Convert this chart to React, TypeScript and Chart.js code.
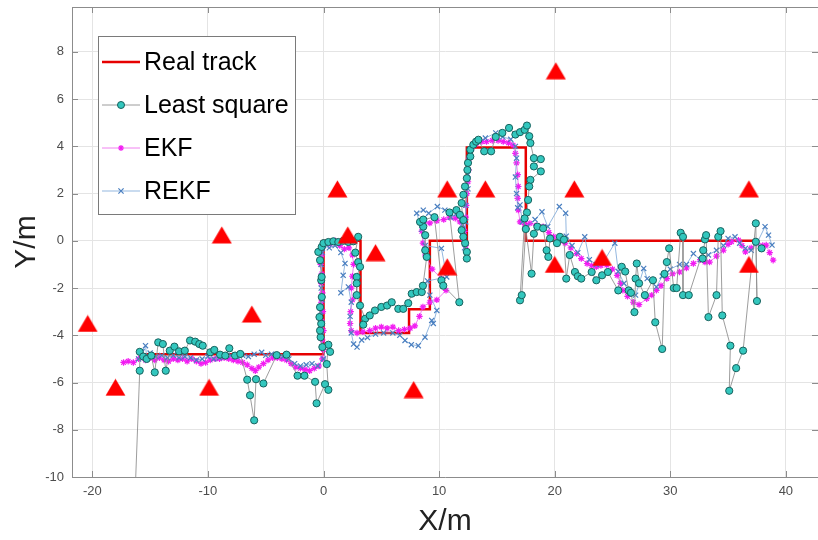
import React, { useEffect, useRef } from "react";
import { Chart, registerables } from "chart.js";

Chart.register(...registerables);

const FONT = "'Liberation Sans', Arial, Helvetica, sans-serif";

const xTicks = [-20, -10, 0, 10, 20, 30, 40];
const yTicks = [-10, -8, -6, -4, -2, 0, 2, 4, 6, 8];
const xRange = [-21.76, 42.78];
const yRange = [-10, 9.9];

const seriesNames = ["Real track", "Least square", "EKF", "REKF"];

const realTrackX = [-15.5, 0, 0, 3.2, 3.2, 7.4, 7.4, 9.2, 9.2, 12.4, 12.4, 17.5, 17.5, 37.5];
const realTrackY = [-4.8, -4.8, 0, 0, -3.9, -3.9, -2.9, -2.9, 0, 0, 3.95, 3.95, 0, 0];

const anchorX = [-20.4, -18, -9.9, -6.2, -8.8, 1.2, 2.1, 4.5, 7.8, 10.7, 14.0, 10.7, 20.1, 21.7, 36.8, 24.1, 20.0, 36.8];
const anchorY = [-3.5, -6.2, -6.2, -3.1, 0.25, 2.2, 0.25, -0.5, -6.3, 2.2, 2.2, -1.1, 7.2, 2.2, 2.2, -0.7, -1.0, -1.0];

const leastSquare: [number, number][] = [
  [-16.4, -12], [-15.9, -5.5], [-15.9, -4.7], [-15.6, -4.9], [-15.3, -5.0], [-14.9, -4.86], [-14.6, -5.57],
  [-14.3, -4.3], [-13.9, -4.37], [-13.65, -5.5], [-13.3, -4.65], [-12.9, -4.48], [-12.5, -4.68], [-12.0, -4.65],
  [-11.55, -4.22], [-11.1, -4.27], [-10.75, -4.37], [-10.45, -4.44], [-9.8, -4.72], [-9.45, -4.62], [-8.95, -4.82],
  [-8.5, -4.86], [-8.15, -4.55], [-7.65, -4.86], [-7.2, -4.79], [-6.6, -5.88], [-6.36, -6.54], [-6.0, -7.6],
  [-5.84, -5.86], [-5.2, -6.04], [-4.05, -4.84], [-3.2, -4.82], [-2.25, -5.71], [-1.65, -5.71], [-0.73, -5.97],
  [-0.6, -6.88], [0.13, -6.07], [0.42, -6.31], [0.28, -5.22], [0.42, -4.4], [0.57, -4.7], [-0.1, -4.5],
  [-0.25, -4.08], [-0.3, -3.8], [-0.2, -3.51], [-0.35, -3.23], [-0.3, -2.81], [-0.15, -2.38], [-0.2, -1.67],
  [-0.16, -1.53], [-0.3, -0.82], [-0.45, -0.47], [-0.16, -0.26], [0.0, -0.1], [0.42, -0.05], [0.85, -0.02],
  [1.28, -0.05], [1.71, 0.0], [2.15, -0.05], [2.58, -0.02], [3.0, 0.17], [2.75, -0.5], [3.0, -0.9],
  [3.16, -1.1], [2.87, -1.53], [2.87, -1.8], [2.87, -2.3], [3.16, -2.74], [3.6, -3.3], [3.44, -3.55],
  [4.0, -3.16], [4.45, -2.95], [5.0, -2.8], [5.5, -2.74], [5.9, -2.6], [6.47, -2.88], [6.9, -2.88],
  [7.33, -2.64], [7.63, -2.24], [8.06, -2.17], [8.5, -2.17], [8.6, -1.9], [8.93, -0.68], [8.8, -0.4],
  [8.8, 0.24], [8.63, 0.6], [8.35, 0.8], [8.63, 0.9], [9.6, 1.0], [10.2, -1.67], [10.36, -1.9],
  [11.75, -2.6], [10.9, 1.2], [11.5, 1.3], [11.8, 1.1], [12.1, 0.88], [11.95, 0.45], [12.25, -0.1],
  [12.4, -0.47], [12.4, -0.75], [12.1, 0.17], [11.95, 1.6], [12.1, 1.95], [12.24, 2.3], [12.4, 2.65],
  [12.45, 3.0], [12.5, 3.3], [12.7, 3.57], [12.7, 3.86], [12.96, 4.07], [13.2, 4.2], [13.4, 4.28],
  [13.9, 3.79], [14.5, 3.79], [14.9, 4.4], [15.47, 4.57], [16.05, 4.78], [16.6, 4.5], [17.0, 4.6],
  [17.4, 4.7], [17.6, 4.88], [17.8, 4.43], [17.9, 4.14], [18.2, 3.5], [18.8, 3.46], [18.2, 3.15],
  [18.8, 2.94], [17.9, 2.58], [17.8, 2.3], [17.7, 1.73], [17.6, 1.2], [17.4, 0.95], [17.0, -2.52],
  [17.15, -2.3], [17.5, 0.5], [18.0, -1.39], [18.2, 0.3], [18.5, 0.6], [19.0, 0.53], [19.3, -0.4],
  [19.45, -0.68], [19.6, 0.1], [20.2, -0.1], [20.45, 0.17], [20.8, 0.05], [21.0, -1.6], [21.3, -0.6],
  [21.75, -1.32], [22.0, -1.5], [22.3, -1.6], [23.2, -1.32], [23.6, -1.67], [24.1, -1.46], [24.6, -1.32],
  [25.5, -2.1], [25.8, -1.1], [26.1, -1.3], [26.4, -2.1], [26.6, -2.2], [26.9, -3.02], [27.0, -1.6],
  [27.1, -0.96], [27.3, -1.8], [27.8, -2.3], [28.5, -1.67], [28.7, -3.45], [29.3, -4.58], [29.5, -1.4],
  [29.7, -0.9], [29.9, -0.32], [30.3, -2.0], [30.55, -2.0], [30.9, 0.34], [31.1, 0.17], [31.1, -2.3],
  [31.6, -2.3], [32.85, -0.4], [32.8, -0.75], [33.0, 0.06], [33.1, 0.24], [33.3, -3.23], [34.0, -2.3],
  [34.15, 0.17], [34.35, 0.41], [34.5, -3.16], [35.2, -4.44], [35.1, -6.35], [35.7, -5.39], [36.3, -4.65],
  [37.4, 0.74], [37.5, -2.55], [37.4, -0.04], [37.9, -0.32],
];

const ekf: [number, number][] = [
  [-17.3, -5.15], [-16.9, -5.1], [-16.45, -5.15], [-16.0, -5.0], [-15.7, -4.9], [-15.4, -5.05], [-15.0, -4.95],
  [-14.6, -5.05], [-14.2, -4.95], [-13.8, -5.05], [-13.4, -5.1], [-13.0, -5.0], [-12.6, -5.05], [-12.2, -5.0],
  [-11.8, -5.1], [-11.4, -5.0], [-11.0, -5.1], [-10.6, -5.2], [-10.2, -5.15], [-9.8, -5.05], [-9.4, -5.0],
  [-9.0, -5.0], [-8.6, -4.95], [-8.2, -5.0], [-7.8, -5.05], [-7.4, -5.1], [-7.0, -5.15], [-6.6, -5.25],
  [-6.2, -5.4], [-5.9, -5.5], [-5.6, -5.35], [-5.2, -5.2], [-4.8, -5.05], [-4.4, -4.95], [-4.0, -4.95],
  [-3.6, -5.0], [-3.2, -5.05], [-2.8, -5.2], [-2.4, -5.35], [-2.0, -5.4], [-1.6, -5.45], [-1.2, -5.5],
  [-0.8, -5.4], [-0.4, -5.3], [-0.1, -5.0], [0.0, -4.6], [-0.1, -4.2], [0.0, -3.8], [-0.15, -3.4],
  [-0.05, -3.0], [-0.2, -2.6], [-0.1, -2.2], [-0.2, -1.8], [-0.15, -1.4], [-0.25, -1.0], [-0.15, -0.6],
  [-0.1, -0.3], [0.2, -0.1], [0.6, -0.15], [1.0, 0.0], [1.4, -0.2], [1.8, -0.35], [2.2, -0.3],
  [2.5, -0.6], [2.6, -1.0], [2.5, -1.5], [2.4, -2.0], [2.5, -2.5], [2.35, -3.0], [2.3, -3.5],
  [2.4, -3.8], [2.9, -3.9], [3.4, -3.85], [4.0, -3.8], [4.5, -3.7], [5.0, -3.65], [5.5, -3.7],
  [6.0, -3.65], [6.5, -3.8], [7.0, -3.75], [7.5, -3.7], [7.9, -3.6], [8.3, -3.2], [8.6, -2.8],
  [9.2, -2.6], [9.8, -2.5], [10.6, -2.1], [10.2, -1.6], [9.4, -1.2], [8.8, -0.6], [8.6, -0.1],
  [8.5, 0.4], [8.7, 0.8], [9.2, 0.75], [9.8, 0.85], [10.4, 0.9], [10.9, 1.0], [11.4, 0.95],
  [11.8, 0.8], [12.1, 0.5], [12.1, 0.1], [12.3, -0.2], [12.2, 0.4], [12.3, 1.0], [12.35, 1.5],
  [12.4, 2.0], [12.5, 2.5], [12.55, 3.0], [12.6, 3.5], [12.8, 3.9], [13.2, 4.1], [13.7, 4.2],
  [14.1, 4.2], [14.6, 4.25], [15.1, 4.25], [15.55, 4.2], [16.0, 4.15], [16.4, 4.05], [16.6, 3.7],
  [16.7, 3.3], [16.8, 2.8], [16.85, 2.3], [16.8, 1.8], [16.85, 1.3], [17.0, 0.8], [17.4, 0.7],
  [17.85, 0.74], [18.4, 0.65], [19.0, 0.6], [19.5, 0.35], [19.9, 0.17], [20.4, 0.0], [20.9, -0.1],
  [21.4, -0.3], [21.9, -0.54], [22.3, -0.75], [22.8, -0.96], [23.2, -1.05], [23.6, -1.1], [24.0, -1.05],
  [24.5, -1.03], [25.0, -1.2], [25.4, -1.46], [25.7, -1.8], [25.9, -2.1], [26.3, -2.35], [26.8, -2.6],
  [27.3, -2.7], [27.96, -2.45], [28.4, -2.3], [28.8, -2.1], [29.2, -1.9], [29.7, -1.6], [30.2, -1.4],
  [30.8, -1.32], [31.4, -1.15], [32.0, -0.96], [32.6, -0.8], [33.0, -0.9], [33.4, -0.9], [34.0, -0.65],
  [34.6, -0.4], [35.0, -0.15], [35.3, -0.04], [35.9, 0.03], [36.2, -0.2], [36.5, -0.47], [37.0, -0.3],
  [37.5, -0.1], [38.0, -0.2], [38.3, -0.18], [38.6, -0.5], [38.9, -0.82],
];

const rekf: [number, number][] = [
  [-16.0, -5.0], [-15.7, -4.7], [-15.4, -4.44], [-15.3, -4.9], [-15.0, -4.75], [-14.5, -4.9], [-14.0, -4.85],
  [-13.5, -4.95], [-13.0, -4.85], [-12.5, -4.95], [-12.0, -4.9], [-11.5, -4.95], [-11.0, -5.05], [-10.5, -5.0],
  [-10.0, -4.9], [-9.5, -5.0], [-9.0, -4.95], [-8.5, -4.9], [-8.0, -4.85], [-7.5, -4.9], [-7.0, -4.85],
  [-6.5, -4.9], [-6.0, -4.8], [-5.35, -4.72], [-5.0, -4.85], [-4.5, -4.8], [-4.0, -4.85], [-3.5, -4.9],
  [-3.0, -5.0], [-2.5, -5.2], [-2.0, -5.3], [-1.5, -5.25], [-1.0, -5.2], [-0.5, -5.3], [0.0, -5.0],
  [0.3, -5.2], [-0.1, -4.5], [-0.2, -4.0], [-0.1, -3.5], [-0.25, -3.0], [-0.1, -2.5], [-0.2, -2.0],
  [-0.15, -1.5], [-0.2, -1.0], [-0.1, -0.5], [0.0, -0.2], [0.5, -0.3], [1.0, -0.2], [1.5, -0.5],
  [1.86, -0.96], [1.7, -1.46], [1.5, -2.2], [2.15, -1.95], [2.4, -2.6], [2.3, -3.2], [2.4, -3.9],
  [2.6, -4.37], [2.9, -4.5], [3.3, -4.2], [3.8, -4.1], [4.5, -3.95], [5.2, -3.9], [6.0, -3.9],
  [6.6, -4.0], [7.05, -4.22], [7.6, -4.4], [8.2, -4.44], [8.78, -4.08], [9.36, -3.37], [9.5, -3.5],
  [9.8, -2.95], [9.2, -2.3], [9.0, -1.7], [10.66, -1.53], [10.2, -0.32], [8.8, -0.2], [8.5, 0.5],
  [8.06, 1.17], [8.63, 1.3], [9.1, 1.17], [9.85, 1.45], [10.5, 1.3], [11.0, 1.0], [11.5, 1.15],
  [12.0, 0.7], [12.2, -0.3], [12.3, 0.8], [12.3, 1.5], [12.5, 2.2], [12.5, 2.8], [12.6, 3.4],
  [12.8, 3.9], [13.4, 4.2], [14.0, 4.35], [14.9, 4.57], [15.5, 4.4], [16.2, 4.3], [16.6, 4.0],
  [16.7, 3.5], [16.6, 2.7], [16.7, 2.0], [16.8, 1.4], [17.0, 1.52], [17.2, 0.8], [17.6, 0.6],
  [18.3, 0.9], [18.9, 1.23], [19.4, 0.6], [20.4, 1.45], [20.95, 1.17], [21.0, 0.2], [21.5, -0.2],
  [22.0, -0.5], [22.6, 0.17], [23.0, -0.8], [23.6, -1.0], [24.2, -0.9], [25.2, -0.1], [25.5, -1.3],
  [26.0, -1.8], [26.5, -2.2], [27.0, -2.3], [27.7, -1.17], [28.0, -1.6], [28.8, -1.95], [29.3, -1.5],
  [30.0, -1.2], [30.8, -1.0], [31.4, -1.0], [32.0, -0.54], [32.6, -0.8], [33.3, -0.6], [34.0, -0.4],
  [34.6, -0.2], [35.0, 0.1], [35.6, 0.17], [36.0, -0.1], [36.5, -0.32], [37.0, -0.4], [37.5, -0.1],
  [38.2, 0.6], [38.5, 0.24], [38.8, -0.18],
];

const COLORS = {
  real: "#e60000",
  lsFill: "#33c7be",
  lsEdge: "#17615d",
  lsLine: "rgba(140,140,140,0.85)",
  ekf: "#f21cf2",
  ekfLine: "rgba(235,90,235,0.75)",
  rekf: "#4a7fc0",
  rekfLine: "rgba(120,165,215,0.8)",
  anchor: "#ff0000",
  grid: "#e4e4e4",
  axis: "#8c8c8c",
  tick: "#4d4d4d",
};

function makeTriangle(): HTMLCanvasElement {
  const c = document.createElement("canvas");
  c.width = 21;
  c.height = 18;
  const g = c.getContext("2d")!;
  g.fillStyle = COLORS.anchor;
  g.beginPath();
  g.moveTo(10.5, 0.5);
  g.lineTo(20.5, 17.5);
  g.lineTo(0.5, 17.5);
  g.closePath();
  g.fill();
  return c;
}

const framePlugin = {
  id: "matlabFrame",
  afterDraw(chart: any) {
    const { ctx, chartArea } = chart;
    const { left, right, top, bottom } = chartArea;
    const xs = chart.scales.x;
    const ys = chart.scales.y;
    ctx.save();
    ctx.strokeStyle = COLORS.axis;
    ctx.lineWidth = 1;
    ctx.beginPath();
    ctx.moveTo(left, top + 0.5);
    ctx.lineTo(right, top + 0.5);
    ctx.stroke();
    ctx.beginPath();
    for (const v of xTicks) {
      const px = Math.round(xs.getPixelForValue(v)) + 0.5;
      ctx.moveTo(px, bottom);
      ctx.lineTo(px, bottom - 6);
      ctx.moveTo(px, top);
      ctx.lineTo(px, top + 6);
    }
    for (const v of yTicks) {
      const py = Math.round(ys.getPixelForValue(v)) + 0.5;
      ctx.moveTo(left, py);
      ctx.lineTo(left + 6, py);
      ctx.moveTo(right, py);
      ctx.lineTo(right - 6, py);
    }
    ctx.stroke();

    // legend
    const bx = 98, by = 36, bw = 197, bh = 178;
    ctx.fillStyle = "#ffffff";
    ctx.fillRect(bx, by, bw, bh);
    ctx.strokeStyle = "#7a7a7a";
    ctx.strokeRect(bx + 0.5, by + 0.5, bw, bh);
    const rows = [62, 105, 148, 191];
    const lx0 = 102, lx1 = 140, mx = 121;
    ctx.font = `25px ${FONT}`;
    ctx.textBaseline = "middle";
    ctx.textAlign = "left";
    rows.forEach((ry, i) => {
      ctx.save();
      if (i === 0) { ctx.strokeStyle = COLORS.real; ctx.lineWidth = 2.5; }
      if (i === 1) { ctx.strokeStyle = COLORS.lsLine; ctx.lineWidth = 1; }
      if (i === 2) { ctx.strokeStyle = COLORS.ekfLine; ctx.lineWidth = 1; }
      if (i === 3) { ctx.strokeStyle = COLORS.rekfLine; ctx.lineWidth = 1; }
      ctx.beginPath();
      ctx.moveTo(lx0, ry);
      ctx.lineTo(lx1, ry);
      ctx.stroke();
      if (i === 1) {
        ctx.beginPath();
        ctx.arc(mx, ry, 3.5, 0, Math.PI * 2);
        ctx.fillStyle = COLORS.lsFill;
        ctx.fill();
        ctx.strokeStyle = COLORS.lsEdge;
        ctx.stroke();
      } else if (i === 2) {
        ctx.strokeStyle = COLORS.ekf;
        ctx.lineWidth = 1.2;
        ctx.beginPath();
        const r = 3;
        ctx.moveTo(mx - r, ry); ctx.lineTo(mx + r, ry);
        ctx.moveTo(mx, ry - r); ctx.lineTo(mx, ry + r);
        ctx.moveTo(mx - r * 0.7, ry - r * 0.7); ctx.lineTo(mx + r * 0.7, ry + r * 0.7);
        ctx.moveTo(mx - r * 0.7, ry + r * 0.7); ctx.lineTo(mx + r * 0.7, ry - r * 0.7);
        ctx.stroke();
      } else if (i === 3) {
        ctx.strokeStyle = COLORS.rekf;
        ctx.lineWidth = 1.2;
        ctx.beginPath();
        const r = 2.6;
        ctx.moveTo(mx - r, ry - r); ctx.lineTo(mx + r, ry + r);
        ctx.moveTo(mx - r, ry + r); ctx.lineTo(mx + r, ry - r);
        ctx.stroke();
      }
      ctx.restore();
      ctx.fillStyle = "#000000";
      ctx.fillText(seriesNames[i], 144, ry + 1);
    });
    ctx.restore();
  },
};

export default function App() {
  const canvasRef = useRef<HTMLCanvasElement | null>(null);

  useEffect(() => {
    const canvas = canvasRef.current;
    if (!canvas) return;
    const triangle = makeTriangle();
    const toPts = (arr: [number, number][]) => arr.map(([x, y]) => ({ x, y }));

    const chart = new Chart(canvas, {
      type: "scatter",
      data: {
        datasets: [
          {
            label: "anchors",
            data: anchorX.map((x, i) => ({ x, y: anchorY[i] })),
            pointStyle: triangle as any,
            pointRadius: 10,
            showLine: false,
            order: 0,
          } as any,
          {
            label: seriesNames[1],
            data: toPts(leastSquare),
            showLine: true,
            borderColor: COLORS.lsLine,
            borderWidth: 1,
            pointStyle: "circle",
            pointRadius: 3.6,
            pointBackgroundColor: COLORS.lsFill,
            pointBorderColor: COLORS.lsEdge,
            pointBorderWidth: 1,
            order: 1,
          },
          {
            label: seriesNames[3],
            data: toPts(rekf),
            showLine: true,
            borderColor: COLORS.rekfLine,
            borderWidth: 1,
            pointStyle: "crossRot",
            pointRadius: 3.6,
            pointBorderColor: COLORS.rekf,
            pointBorderWidth: 1.2,
            order: 2,
          },
          {
            label: seriesNames[2],
            data: toPts(ekf),
            showLine: true,
            borderColor: COLORS.ekfLine,
            borderWidth: 1,
            pointStyle: "star",
            pointRadius: 3.2,
            pointBorderColor: COLORS.ekf,
            pointBackgroundColor: COLORS.ekf,
            pointBorderWidth: 1.2,
            order: 3,
          },
          {
            label: seriesNames[0],
            data: realTrackX.map((x, i) => ({ x, y: realTrackY[i] })),
            showLine: true,
            borderColor: COLORS.real,
            borderWidth: 2.5,
            pointRadius: 0,
            order: 4,
          },
        ],
      },
      options: {
        responsive: false,
        animation: false,
        events: [],
        layout: { autoPadding: false, padding: { left: 0, right: 0, top: 7, bottom: 0 } },
        plugins: {
          legend: { display: false },
          tooltip: { enabled: false },
        },
        scales: {
          x: {
            type: "linear",
            min: xRange[0],
            max: xRange[1],
            afterBuildTicks: (s: any) => {
              s.ticks = xTicks.map((v) => ({ value: v }));
            },
            afterFit: (s: any) => {
              s.height = 63;
              s.paddingLeft = 0;
              s.paddingRight = 0;
            },
            grid: { color: COLORS.grid, lineWidth: 1, drawTicks: false },
            border: { display: true, color: COLORS.axis, width: 1 },
            ticks: {
              color: COLORS.tick,
              font: { family: FONT, size: 13 },
              padding: 7,
              maxRotation: 0,
              autoSkip: false,
            },
            title: {
              display: true,
              text: "X/m",
              color: "#222222",
              font: { family: FONT, size: 30 },
              padding: { top: 0, bottom: 0 },
            },
          },
          y: {
            type: "linear",
            min: yRange[0],
            max: yRange[1],
            afterBuildTicks: (s: any) => {
              s.ticks = yTicks.map((v) => ({ value: v }));
            },
            afterFit: (s: any) => {
              s.width = 72;
              s.paddingTop = 0;
              s.paddingBottom = 0;
            },
            grid: { color: COLORS.grid, lineWidth: 1, drawTicks: false },
            border: { display: true, color: COLORS.axis, width: 1 },
            ticks: {
              color: COLORS.tick,
              font: { family: FONT, size: 13 },
              padding: 8,
              autoSkip: false,
            },
            title: {
              display: true,
              text: "Y/m",
              color: "#222222",
              font: { family: FONT, size: 30 },
              padding: { top: 9, bottom: 0 },
            },
          },
        },
      },
      plugins: [framePlugin],
    });

    return () => chart.destroy();
  }, []);

  return (
    <div style={{ position: "absolute", left: 0, top: 0, width: 818, height: 540, background: "#ffffff" }}>
      <canvas ref={canvasRef} width={818} height={540} />
    </div>
  );
}
